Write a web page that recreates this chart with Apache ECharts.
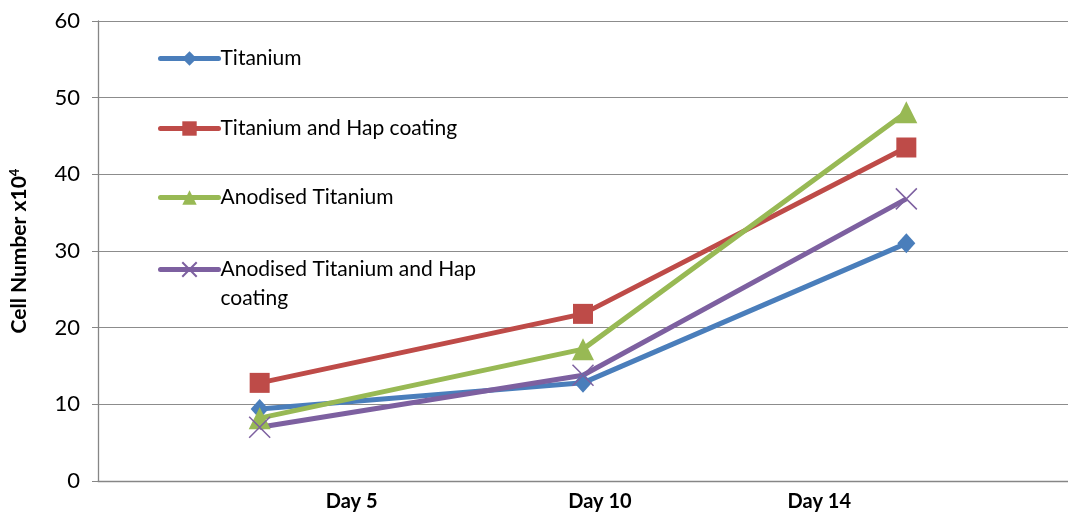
<!DOCTYPE html>
<html>
<head>
<meta charset="utf-8">
<script src="https://cdn.jsdelivr.net/npm/echarts@6/dist/echarts.min.js"></script>
<style>
  html, body { margin: 0; padding: 0; background: #fff; }
  #chart { width: 1068px; height: 515px; }
</style>
</head>
<body>
<div id="chart"></div>
<script>
// Cell counts (x10^4) over culture time
const days = ['Day 5', 'Day 10', 'Day 14'];
const titanium = [9.4, 12.8, 31.0];
const titaniumHap = [12.8, 21.8, 43.5];
const anodised = [8.2, 17.2, 48.1];
const anodisedHap = [7.0, 13.8, 36.8];
const seriesNames = ['Titanium', 'Titanium and Hap coating', 'Anodised Titanium', 'Anodised Titanium and Hap coating'];
const yTicks = { min: 0, max: 60, interval: 10 };

const FONT = 'Lato, "Open Sans", sans-serif';
const colors = ['#4A7EBB', '#BE4B48', '#98B954', '#7D60A0'];
const symbols = ['diamond', 'rect', 'triangle',
  'path://M0,0 L2,2 M2,0 L0,2'];
const symbolSizes = [[18, 20], 20, 22, 21];

// per-label horizontal shift of the day labels
const labelShift = [92, 17, -87];

const chart = echarts.init(document.getElementById('chart'));

const dataSets = [titanium, titaniumHap, anodised, anodisedHap];
const series = dataSets.map((d, i) => ({
  name: seriesNames[i],
  type: 'line',
  data: d,
  symbol: symbols[i],
  symbolSize: symbolSizes[i],
  lineStyle: { color: colors[i], width: 5 },
  itemStyle: i === 3
    ? { color: 'rgba(0,0,0,0)', borderColor: colors[i], borderWidth: 1.5 }
    : { color: colors[i], borderWidth: 0 },
  emphasis: { disabled: true },
  animation: false
}));

const legendTops = [39, 109, 178, 221];
const legends = seriesNames.map((n, i) => ({
  left: 153,
  top: legendTops[i],
  orient: 'vertical',
  data: [n],
  itemWidth: 58,
  itemHeight: 18,
  itemGap: 0,
  selectedMode: false,
  lineStyle: { width: 5, cap: 'round' },
  formatter: i === 3 ? '\nAnodised Titanium and Hap\ncoating' : n,
  textStyle: {
    fontFamily: FONT, fontSize: 21, color: '#000', lineHeight: 29, padding: [0, 0, 0, -3]
  }
}));

chart.setOption({
  animation: false,
  color: colors,
  legend: legends,
  grid: { left: 97, right: 0, top: 21, bottom: 34 },
  xAxis: {
    type: 'category',
    data: days,
    boundaryGap: true,
    axisLine: { lineStyle: { color: '#868686', width: 1.3 } },
    axisTick: { show: false },
    axisLabel: {
      margin: 11,
      interval: 0,
      formatter: (v, idx) => '{d' + idx + '|' + v + '}',
      rich: Object.fromEntries(labelShift.map((s, i) => [
        'd' + i,
        {
          fontFamily: FONT, fontSize: 20, fontWeight: 'bold', color: '#000',
          padding: s >= 0 ? [0, 0, 0, 2 * s] : [0, -2 * s, 0, 0]
        }
      ]))
    }
  },
  yAxis: {
    type: 'value',
    min: yTicks.min,
    max: yTicks.max,
    interval: yTicks.interval,
    name: '{a|Cell Number x10}{s|4}',
    nameLocation: 'middle',
    nameGap: 67,
    nameRotate: 90,
    nameTextStyle: {
      rich: {
        a: { fontFamily: FONT, fontSize: 21, fontWeight: 'bold', color: '#000' },
        s: { fontFamily: FONT, fontSize: 13, fontWeight: 'bold', color: '#000', padding: [0, 0, 10, 0] }
      }
    },
    axisLine: { show: true, lineStyle: { color: '#868686', width: 1.3 } },
    axisTick: { show: true, length: 6, lineStyle: { color: '#868686' } },
    splitLine: { lineStyle: { color: '#8C8C8C', width: 1.2 } },
    axisLabel: { fontFamily: FONT, fontSize: 22, color: '#000', margin: 18 }
  },
  series: series
});
</script>
</body>
</html>
